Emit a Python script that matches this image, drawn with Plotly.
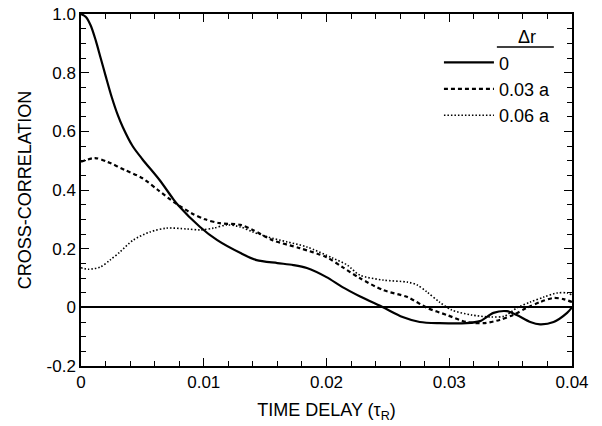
import plotly.graph_objects as go

# Δr = 0 (solid)
x_0 = [0.0, 0.0004, 0.0008, 0.0012, 0.0016, 0.002, 0.0025, 0.003, 0.0034, 0.0042, 0.005,
       0.0064, 0.0075, 0.0079, 0.0097, 0.0111, 0.013, 0.0143, 0.016, 0.0173, 0.0184, 0.02,
       0.0213, 0.0227, 0.0246, 0.0262, 0.0276, 0.0292, 0.0314, 0.0325, 0.0336, 0.0347, 0.0355,
       0.0366, 0.0374, 0.0385, 0.0396, 0.04]
y_0 = [1.0, 0.99, 0.96, 0.91, 0.85, 0.79, 0.717, 0.655, 0.615, 0.55, 0.505,
       0.434, 0.37, 0.349, 0.274, 0.229, 0.185, 0.161, 0.151, 0.144, 0.134, 0.103,
       0.069, 0.038, 0.0, -0.033, -0.05, -0.054, -0.054, -0.047, -0.019, -0.013, -0.026,
       -0.05, -0.058, -0.05, -0.019, 0.0]

# Δr = 0.03 a (dashed)
x_03 = [0.0, 0.00114, 0.0022, 0.00358, 0.00497, 0.00627, 0.00766, 0.009, 0.0101, 0.0113,
        0.013, 0.014, 0.0156, 0.0178, 0.02, 0.0213, 0.0227, 0.0246, 0.0266, 0.0282, 0.0298,
        0.0314, 0.0328, 0.0341, 0.0352, 0.0363, 0.0374, 0.0385, 0.0393, 0.04]
y_03 = [0.496, 0.509, 0.495, 0.468, 0.441, 0.4, 0.356, 0.321, 0.3, 0.287,
        0.281, 0.264, 0.229, 0.202, 0.171, 0.137, 0.1, 0.059, 0.035, -0.002, -0.026,
        -0.05, -0.054, -0.043, -0.026, -0.002, 0.018, 0.032, 0.028, 0.018]

# Δr = 0.06 a (dotted)
x_06 = [0.0, 0.0006, 0.00155, 0.00236, 0.00318, 0.00424, 0.00562, 0.007, 0.00864, 0.0097,
        0.0108, 0.0119, 0.013, 0.014, 0.0152, 0.0168, 0.0184, 0.0205, 0.0217, 0.0227,
        0.0246, 0.0266, 0.0274, 0.0282, 0.0292, 0.0302, 0.0318, 0.0334, 0.0345, 0.0355,
        0.0366, 0.0377, 0.0388, 0.0396, 0.04]
y_06 = [0.135, 0.13, 0.137, 0.161, 0.189, 0.229, 0.257, 0.27, 0.267, 0.264,
        0.27, 0.281, 0.274, 0.257, 0.24, 0.223, 0.206, 0.168, 0.144, 0.11,
        0.093, 0.086, 0.076, 0.052, 0.018, -0.009, -0.026, -0.033, -0.03, -0.002,
        0.018, 0.035, 0.049, 0.049, 0.042]

series_names = ["0", "0.03 a", "0.06 a"]
legend_title = "Δr"
x_ticks = [0, 0.01, 0.02, 0.03, 0.04]
x_tick_text = ["0", "0.01", "0.02", "0.03", "0.04"]
y_ticks = [-0.2, 0, 0.2, 0.4, 0.6, 0.8, 1.0]
y_tick_text = ["-0.2", "0", "0.2", "0.4", "0.6", "0.8", "1.0"]

FONT = "Liberation Sans, Arial, Helvetica, sans-serif"

fig = go.Figure()
fig.add_trace(go.Scatter(x=x_0, y=y_0, mode="lines", name=series_names[0], legendgroup="a",
                         line=dict(color="black", width=2.2, shape="spline", smoothing=0.8)))
fig.add_trace(go.Scatter(x=x_03, y=y_03, mode="lines", name=series_names[1], legendgroup="b",
                         line=dict(color="black", width=2.2, dash="4px,3px", shape="spline", smoothing=0.8)))
fig.add_trace(go.Scatter(x=x_06, y=y_06, mode="lines", name=series_names[2], legendgroup="c",
                         line=dict(color="black", width=1.6, dash="1.5px,2px", shape="spline", smoothing=0.8)))

axis_common = dict(
    showgrid=False, showline=True, linecolor="black", linewidth=1.5,
    mirror="ticks", ticks="inside", tickcolor="black", tickwidth=1.2, ticklen=8,
    tickfont=dict(family=FONT, size=17, color="black"), automargin=False,
    ticklabeloverflow="allow",
)

fig.update_xaxes(
    range=[0, 0.04], tickvals=x_ticks, ticktext=x_tick_text,
    minor=dict(dtick=0.002, tick0=0, ticks="inside", ticklen=5, tickcolor="black", tickwidth=1.2),
    title=dict(text="TIME DELAY (τ<sub>R</sub>)", font=dict(family=FONT, size=18, color="black"), standoff=12),
    zeroline=False, **axis_common)
fig.update_yaxes(
    range=[-0.2, 1.0], tickvals=y_ticks, ticktext=y_tick_text,
    minor=dict(dtick=0.05, tick0=0, ticks="inside", ticklen=5, tickcolor="black", tickwidth=1.2),
    title=dict(text="CROSS-CORRELATION", font=dict(family=FONT, size=18, color="black"), standoff=10),
    zeroline=True, zerolinecolor="black", zerolinewidth=1.5, **axis_common)

fig.update_layout(
    width=602, height=426,
    margin=dict(l=81, r=30, t=14, b=60),
    paper_bgcolor="white", plot_bgcolor="white",
    font=dict(family=FONT, color="black"),
    showlegend=True,
    legend=dict(
        x=0.729, y=0.914, xanchor="left", yanchor="top",
        bgcolor="rgba(0,0,0,0)",
        font=dict(family=FONT, size=18, color="black"),
        itemwidth=50, tracegroupgap=0,
    ),
)
fig.add_annotation(text=legend_title, xref="paper", yref="paper", x=0.908, y=0.935,
                   xanchor="center", yanchor="middle", showarrow=False,
                   font=dict(family=FONT, size=18, color="black"))
# underline under legend title
fig.add_shape(type="line", xref="paper", yref="paper",
              x0=0.847, x1=0.963, y0=0.906, y1=0.906,
              line=dict(color="black", width=1.5))

# remove the page's default 8px body margin so the figure fills the window
fig.write_html("out.html", config={"displayModeBar": False},
               post_script="document.body.style.margin='0';document.body.style.overflow='hidden';")
